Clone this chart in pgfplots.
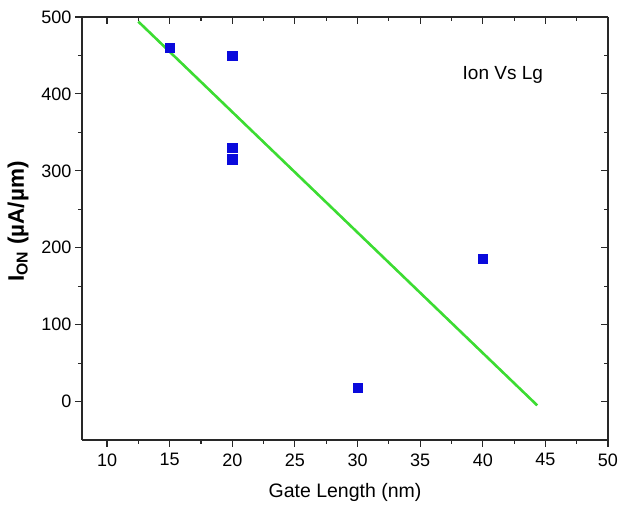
\documentclass[border=0pt]{standalone}
\usepackage{fontspec}
\setmainfont{Liberation Sans}
\usepackage{pgfplots}
\pgfplotsset{compat=1.18}

\definecolor{fitgreen}{RGB}{60,220,50}
\definecolor{ptblue}{RGB}{10,10,220}
\definecolor{axgray}{RGB}{40,40,40}

\begin{document}
\begin{tikzpicture}[x=1pt,y=1pt]
\pgfplotsset{
  myframe/.style={
    width=526pt, height=423pt, scale only axis,
    xmin=8, xmax=50, ymin=-50, ymax=500,
    xtick={10,15,...,50}, ytick={0,100,...,500},
    minor x tick num=1, minor y tick num=1,
    axis line style={axgray, line width=1.3pt},
    every tick/.style={axgray, line width=1.1pt},
    major tick length=7pt, minor tick length=4pt,
  }
}
\begin{axis}[myframe,
  axis x line*=bottom, axis y line*=left,
  tick align=outside,
  tick label style={font=\fontsize{18}{20}\selectfont},
  xticklabel style={yshift=-3pt},
  /pgf/number format/assume math mode=true,
  xlabel={Gate Length (nm)},
  xlabel style={font=\fontsize{19.5}{22}\selectfont, yshift=-10pt},
  ylabel={\textbf{I\textsubscript{ON} (µA/µm)}},
  ylabel style={font=\fontsize{22.5}{24}\selectfont, yshift=6pt, xshift=7pt},
  clip=false,
]
\addplot[fitgreen, line width=2.6pt] coordinates {(12.5,494) (44.35,-5)};
\addplot[only marks, mark=square*, mark size=4.6pt, mark options={fill=ptblue, draw=ptblue}]
  coordinates {(15,460) (20,450) (20,330) (20,315) (30,18) (40,186)};
\node[font=\fontsize{19}{22}\selectfont] at (axis cs:41.6,425) {Ion Vs Lg};
\end{axis}
\begin{axis}[myframe,
  axis x line*=top, axis y line*=right,
  tick align=inside,
  xticklabels={}, yticklabels={},
]
\end{axis}
\pgfresetboundingbox
\useasboundingbox (-82,-71) rectangle (537,440);
\end{tikzpicture}
\end{document}
